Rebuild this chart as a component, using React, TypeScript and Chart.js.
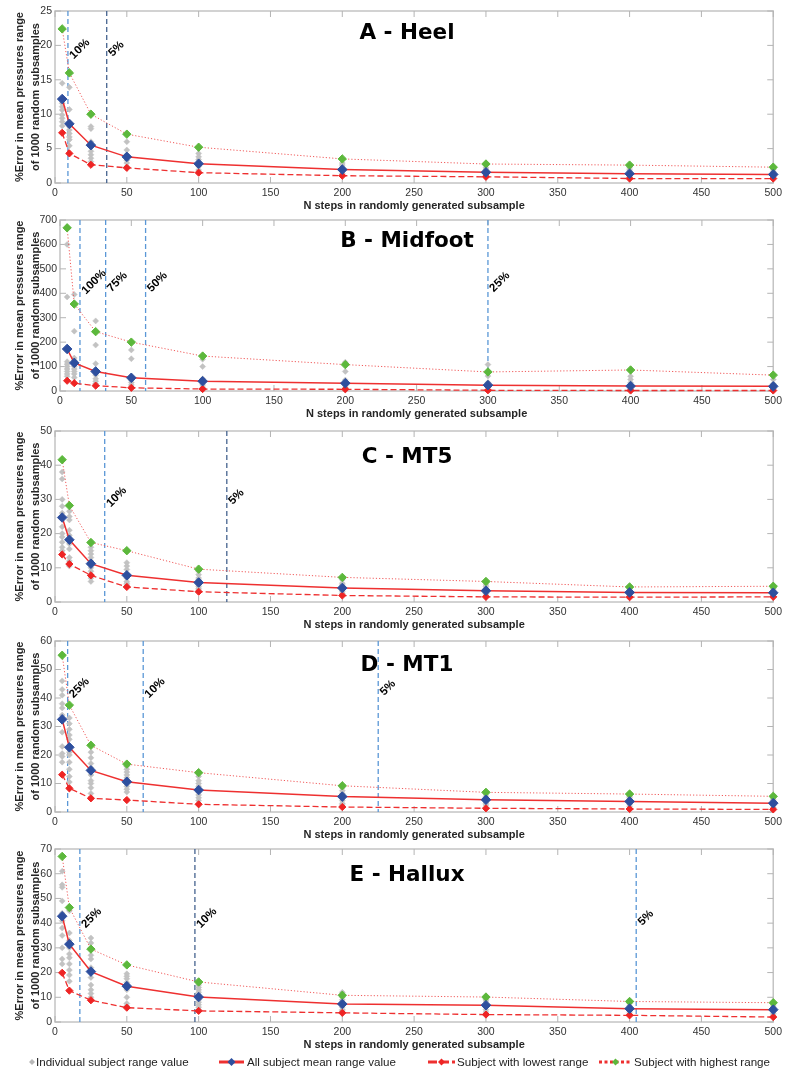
import React, { useEffect, useRef } from 'react';
import { Chart, registerables } from 'chart.js';
Chart.register(...registerables);

// ---------- shared axes ----------
const steps = [5, 10, 25, 50, 100, 200, 300, 400, 500];
const xTickValues = [0, 50, 100, 150, 200, 250, 300, 350, 400, 450, 500];
const xAxisTitle = 'N steps in randomly generated subsample';
const yAxisTitle = ['%Error in mean pressures range', 'of 1000 random subsamples'];

// ---------- A - Heel ----------
const heelMean = [12.2, 8.6, 5.5, 3.8, 2.8, 1.95, 1.55, 1.35, 1.25];
const heelLowest = [7.3, 4.3, 2.65, 2.2, 1.5, 1.06, 0.9, 0.65, 0.65];
const heelHighest = [22.4, 16.0, 10.0, 7.1, 5.2, 3.5, 2.76, 2.6, 2.3];
const heelIndividual = [
  [14.5, 11.6, 11.1, 10.6, 9.9, 9.4, 8.9, 8.3],
  [13.9, 10.7, 8.2, 7.7, 7.2, 6.7, 6.3, 5.4],
  [8.2, 7.9, 6.0, 5.3, 4.6, 4.1, 3.6, 3.1],
  [6.0, 4.8, 4.1, 3.3, 2.9, 2.4],
  [4.3, 3.8, 3.4, 3.0, 2.4, 1.9],
  [2.9, 2.6, 2.3, 1.7, 1.4],
  [2.2, 2.0, 1.8, 1.4, 1.1],
  [2.2, 1.9, 1.6, 1.2, 0.9],
  [2.0, 1.7, 1.4, 1.1, 0.9],
];
const heelYTicks = [0, 5, 10, 15, 20, 25];
const heelThresholds = [9, 36];
const heelThresholdLabels = ['10%', '5%'];

// ---------- B - Midfoot ----------
const midfootMean = [172, 115, 80, 54, 40, 32, 24, 20, 19];
const midfootLowest = [42, 32, 22, 13, 8, 7, 3, 2, 2];
const midfootHighest = [668, 356, 243, 200, 143, 108, 78, 86, 65];
const midfootIndividual = [
  [600, 385, 120, 110, 100, 90, 80, 70, 60],
  [395, 245, 135, 125, 115, 100, 90, 80, 70, 55],
  [287, 188, 112, 65, 50, 40, 30],
  [168, 132, 60, 45, 35, 25],
  [130, 100, 50, 35, 25, 15],
  [118, 80, 45, 25, 15],
  [108, 61, 35, 15],
  [60, 47, 34, 12],
  [47, 30, 20, 10],
];
const midfootYTicks = [0, 100, 200, 300, 400, 500, 600, 700];
const midfootThresholds = [14, 32, 60, 300];
const midfootThresholdLabels = ['100%', '75%', '50%', '25%'];

// ---------- C - MT5 ----------
const mt5Mean = [24.7, 18.2, 11.2, 7.8, 5.7, 4.1, 3.3, 2.8, 2.7];
const mt5Lowest = [13.9, 11.1, 7.8, 4.4, 3.0, 1.9, 1.5, 1.4, 1.5];
const mt5Highest = [41.6, 28.2, 17.4, 15.0, 9.6, 7.2, 6.0, 4.4, 4.6];
const mt5Individual = [
  [38, 36, 30, 28, 26, 22, 20, 19, 17.5, 16, 15],
  [26.5, 25, 24, 21, 19.5, 17, 15.5, 13, 12, 11, 10.5],
  [16, 15, 14, 13, 12, 10, 9, 8, 7, 6],
  [11.5, 10.5, 9.5, 7, 6, 5.5, 5, 4.5],
  [9, 8, 7, 6.5, 5, 4.5, 4, 3.5],
  [6.5, 5.5, 5, 4.5, 3.5, 3, 2.5],
  [5, 4.5, 4, 3.5, 3, 2.5, 2],
  [4.2, 3.8, 3.4, 3, 2.6, 2.2, 1.8],
  [4, 3.5, 3.2, 2.8, 2.4, 2, 1.7],
];
const mt5YTicks = [0, 10, 20, 30, 40, 50];
const mt5Thresholds = [34.6, 119.6];
const mt5ThresholdLabels = ['10%', '5%'];

// ---------- D - MT1 ----------
const mt1Mean = [32.5, 22.7, 14.6, 10.6, 7.7, 5.4, 4.3, 3.7, 3.1];
const mt1Lowest = [13.1, 8.3, 4.8, 4.2, 2.7, 1.75, 1.3, 1.05, 0.9];
const mt1Highest = [55.0, 37.5, 23.4, 16.8, 13.8, 9.2, 6.9, 6.3, 5.5];
const mt1Individual = [
  [46, 43, 41, 38, 36.5, 34, 28, 23, 20.5, 19.5, 17.5],
  [33, 31, 29, 27, 25.5, 21, 20, 17.5, 15, 12.5, 10.5],
  [21, 19, 17, 15.5, 13, 11, 10, 8.5, 6.5],
  [16, 15, 14, 13, 12, 11, 10, 9, 8, 7],
  [12.5, 11, 10, 9, 7, 6, 5, 4],
  [8.5, 7.5, 6.5, 6, 5, 4, 3, 2.5],
  [6.5, 5.5, 5, 4.5, 3.5, 3, 2.5],
  [5.5, 5, 4.5, 4, 3.3, 2.7, 2],
  [5, 4.5, 4, 3.5, 2.8, 2.2, 1.6],
];
const mt1YTicks = [0, 10, 20, 30, 40, 50, 60];
const mt1Thresholds = [8.8, 61.4, 225];
const mt1ThresholdLabels = ['25%', '10%', '5%'];

// ---------- E - Hallux ----------
const halluxMean = [42.8, 31.5, 20.4, 14.5, 10.1, 7.3, 6.8, 5.4, 5.0];
const halluxLowest = [19.9, 12.7, 8.8, 5.8, 4.5, 3.7, 3.0, 2.7, 2.0];
const halluxHighest = [67.0, 46.3, 29.5, 23.1, 16.2, 10.8, 10.1, 8.3, 7.8];
const halluxIndividual = [
  [61, 55.5, 54.5, 49, 44, 41, 38, 35, 30, 25.5, 23.5],
  [45, 36, 33, 30, 27.5, 26, 23.5, 21, 19, 16.5],
  [34, 32, 27, 25.5, 22, 18, 15, 13, 11.5, 10],
  [19.5, 18.5, 17.5, 16, 15, 13, 10, 7.5, 6.5],
  [15, 14, 13, 12, 11, 9, 8, 7, 6, 5],
  [12, 11, 10, 9, 8, 6, 5, 4.5],
  [10, 9, 8.5, 7.5, 6, 5, 4],
  [8.5, 7.5, 6.5, 5.8, 4.8, 4, 3.2],
  [7.5, 6.5, 6, 5.5, 4.5, 3.5, 2.8],
];
const halluxYTicks = [0, 10, 20, 30, 40, 50, 60, 70];
const halluxThresholds = [17.3, 97.4, 404.6];
const halluxThresholdLabels = ['25%', '10%', '5%'];

// ---------- styles ----------
const FONT = '"Liberation Sans", Arial, Helvetica, sans-serif';
const TITLE_FONT = 'bold 21.5px "DejaVu Sans", sans-serif';
const RED_LINE = '#ee3030';
const RED = '#ee2424';
const BLUE = '#2e4f9e';
const GREEN = '#5cb83c';
const GRAY_PT = '#c2c2c2';
const TH_LIGHT = '#5a97d6';
const TH_DARK = '#46638f';
const FRAME = '#c4c4c4';

const panels = [
  { title: 'A - Heel', mean: heelMean, lowest: heelLowest, highest: heelHighest, individual: heelIndividual, yTicks: heelYTicks, thresholds: heelThresholds, thresholdLabels: heelThresholdLabels,
    thColors: [TH_LIGHT, TH_DARK], plotTop: 11, plotH: 172, plotLeft: 55, titleDy: 22, labelDy: 38 },
  { title: 'B - Midfoot', mean: midfootMean, lowest: midfootLowest, highest: midfootHighest, individual: midfootIndividual, yTicks: midfootYTicks, thresholds: midfootThresholds, thresholdLabels: midfootThresholdLabels,
    thColors: [TH_LIGHT, TH_LIGHT, TH_LIGHT, TH_LIGHT], plotTop: 220, plotH: 171, plotLeft: 60, titleDy: 21, labelDy: 62 },
  { title: 'C - MT5', mean: mt5Mean, lowest: mt5Lowest, highest: mt5Highest, individual: mt5Individual, yTicks: mt5YTicks, thresholds: mt5Thresholds, thresholdLabels: mt5ThresholdLabels,
    thColors: [TH_LIGHT, TH_DARK], plotTop: 431, plotH: 171, plotLeft: 55, titleDy: 26, labelDy: 66 },
  { title: 'D - MT1', mean: mt1Mean, lowest: mt1Lowest, highest: mt1Highest, individual: mt1Individual, yTicks: mt1YTicks, thresholds: mt1Thresholds, thresholdLabels: mt1ThresholdLabels,
    thColors: [TH_LIGHT, TH_LIGHT, TH_LIGHT], plotTop: 641, plotH: 171, plotLeft: 55, titleDy: 24, labelDy: 47 },
  { title: 'E - Hallux', mean: halluxMean, lowest: halluxLowest, highest: halluxHighest, individual: halluxIndividual, yTicks: halluxYTicks, thresholds: halluxThresholds, thresholdLabels: halluxThresholdLabels,
    thColors: [TH_LIGHT, TH_DARK, TH_LIGHT], plotTop: 849, plotH: 173, plotLeft: 55, titleDy: 26, labelDy: 69 },
];

const PAD_TOP = 11;
const X_AXIS_H = 33;

function Panel({ cfg }: { cfg: any }) {
  const ref = useRef<HTMLCanvasElement | null>(null);
  const height = PAD_TOP + cfg.plotH + X_AXIS_H;
  useEffect(() => {
    const canvas = ref.current;
    if (!canvas) return;
    const yMax = cfg.yTicks[cfg.yTicks.length - 1];
    const panelPlugin = {
      id: 'panelDecor',
      beforeDatasetsDraw(chart: any) {
        const { ctx, chartArea } = chart;
        const { left, right, top, bottom } = chartArea;
        const xs = chart.scales.x;
        const ys = chart.scales.y;
        ctx.save();
        ctx.strokeStyle = FRAME;
        ctx.lineWidth = 1.5;
        ctx.strokeRect(left, top, right - left, bottom - top);
        ctx.lineWidth = 1;
        ctx.strokeStyle = '#b4b4b4';
        ctx.beginPath();
        xTickValues.forEach((v) => {
          const px = xs.getPixelForValue(v);
          ctx.moveTo(px, top); ctx.lineTo(px, top + 6);
          ctx.moveTo(px, bottom); ctx.lineTo(px, bottom - 6);
        });
        cfg.yTicks.forEach((v: number) => {
          const py = ys.getPixelForValue(v);
          ctx.moveTo(left, py); ctx.lineTo(left + 6, py);
          ctx.moveTo(right, py); ctx.lineTo(right - 6, py);
        });
        ctx.stroke();
        ctx.setLineDash([5, 3]);
        ctx.lineWidth = 1.3;
        cfg.thresholds.forEach((t: number, i: number) => {
          const px = xs.getPixelForValue(t);
          ctx.strokeStyle = cfg.thColors[i];
          ctx.beginPath();
          ctx.moveTo(px, top); ctx.lineTo(px, bottom);
          ctx.stroke();
        });
        ctx.restore();
      },
      afterDatasetsDraw(chart: any) {
        const { ctx, chartArea } = chart;
        const { top } = chartArea;
        const xs = chart.scales.x;
        ctx.save();
        ctx.fillStyle = '#000';
        ctx.font = TITLE_FONT;
        ctx.textAlign = 'center';
        ctx.textBaseline = 'middle';
        ctx.fillText(cfg.title, 407, top + cfg.titleDy);
        ctx.font = `bold 11.5px ${FONT}`;
        cfg.thresholdLabels.forEach((lbl: string, i: number) => {
          const px = xs.getPixelForValue(cfg.thresholds[i]);
          const w = ctx.measureText(lbl).width;
          const cx = px + ((w + 9) * 0.7071) / 2 + 0.5;
          const cy = top + cfg.labelDy;
          ctx.save();
          ctx.translate(cx, cy);
          ctx.rotate(-Math.PI / 4);
          ctx.fillText(lbl, 0, 0);
          ctx.restore();
        });
        ctx.restore();
      },
    };

    const pts = (arr: number[]) => steps.map((s, i) => ({ x: s, y: arr[i] }));
    const grayPts = steps.flatMap((s, i) => cfg.individual[i].map((v: number) => ({ x: s, y: v })));

    const chart = new Chart(canvas, {
      type: 'line',
      data: {
        datasets: [
          { label: 'All subject mean range value', data: pts(cfg.mean), borderColor: RED_LINE, borderWidth: 1.5, pointStyle: 'rectRot', pointRadius: 4.8, pointBackgroundColor: BLUE, pointBorderColor: BLUE, pointBorderWidth: 1, order: 1, clip: false, tension: 0 },
          { label: 'Subject with lowest range', data: pts(cfg.lowest), borderColor: RED_LINE, borderWidth: 1.3, borderDash: [6, 3], pointStyle: 'rectRot', pointRadius: 3.6, pointBackgroundColor: RED, pointBorderColor: RED, pointBorderWidth: 1, order: 2, clip: false, tension: 0 },
          { label: 'Subject with highest range', data: pts(cfg.highest), borderColor: '#f05a5a', borderWidth: 1, borderDash: [1.2, 2], pointStyle: 'rectRot', pointRadius: 4.2, pointBackgroundColor: GREEN, pointBorderColor: GREEN, pointBorderWidth: 1, order: 3, clip: false, tension: 0 },
          { label: 'Individual subject range value', data: grayPts, showLine: false, pointStyle: 'rectRot', pointRadius: 3, pointBackgroundColor: GRAY_PT, pointBorderColor: GRAY_PT, pointBorderWidth: 0.5, order: 4, clip: false },
        ],
      },
      options: {
        responsive: false,
        animation: false,
        devicePixelRatio: 1,
        events: [],
        layout: { padding: { top: PAD_TOP, right: 9, left: 0, bottom: 0 } },
        plugins: { legend: { display: false }, tooltip: { enabled: false } },
        scales: {
          x: {
            type: 'linear', min: 0, max: 500,
            afterBuildTicks: (s: any) => { s.ticks = xTickValues.map((v) => ({ value: v })); },
            afterFit: (s: any) => { s.height = X_AXIS_H; },
            grid: { display: false, drawTicks: false },
            border: { display: false },
            ticks: { padding: 4, color: '#333', font: { family: FONT, size: 10.5 }, maxRotation: 0, autoSkip: false },
            title: { display: true, text: xAxisTitle, color: '#262626', font: { family: FONT, size: 11, weight: 'bold' }, padding: { top: 0, bottom: 3.4 } },
          },
          y: {
            type: 'linear', min: 0, max: yMax,
            afterBuildTicks: (s: any) => { s.ticks = cfg.yTicks.map((v: number) => ({ value: v })); },
            afterFit: (s: any) => { s.width = cfg.plotLeft; },
            grid: { display: false, drawTicks: false },
            border: { display: false },
            ticks: { padding: 3, color: '#333', font: { family: FONT, size: 10.5 }, autoSkip: false },
            title: { display: true, text: yAxisTitle, color: '#262626', font: { family: FONT, size: 11, weight: 'bold', lineHeight: '16.5px' }, padding: { top: 11.5, bottom: 0 } },
          },
        },
      },
      plugins: [panelPlugin],
    } as any);
    return () => chart.destroy();
  }, [cfg]);
  return (
    <canvas
      ref={ref}
      width={786}
      height={height}
      style={{ position: 'absolute', left: 0, top: cfg.plotTop - PAD_TOP, width: 786, height }}
    />
  );
}

function Diamond({ cx, cy, r, color }: { cx: number; cy: number; r: number; color: string }) {
  return <polygon points={`${cx},${cy - r} ${cx + r},${cy} ${cx},${cy + r} ${cx - r},${cy}`} fill={color} />;
}

const legendText: React.CSSProperties = { position: 'absolute', top: 0, fontFamily: FONT, fontSize: 11.6, color: '#222', lineHeight: '16px', whiteSpace: 'nowrap' };

function Legend() {
  return (
    <div style={{ position: 'absolute', left: 0, top: 1054, width: 786, height: 16 }}>
      <svg style={{ position: 'absolute', left: 28, top: 4 }} width={8} height={8}><Diamond cx={4} cy={4} r={3} color="#b8b8b8" /></svg>
      <span style={{ ...legendText, left: 36 }}>Individual subject range value</span>

      <svg style={{ position: 'absolute', left: 219, top: 2 }} width={25} height={12}>
        <line x1={0} y1={6} x2={25} y2={6} stroke={RED_LINE} strokeWidth={3} />
        <Diamond cx={12.5} cy={6} r={4} color={BLUE} />
      </svg>
      <span style={{ ...legendText, left: 247 }}>All subject mean range value</span>

      <svg style={{ position: 'absolute', left: 428, top: 2 }} width={27} height={12}>
        <line x1={0} y1={6} x2={27} y2={6} stroke={RED_LINE} strokeWidth={3} strokeDasharray="9 3" />
        <Diamond cx={13.5} cy={6} r={3.5} color={RED} />
      </svg>
      <span style={{ ...legendText, left: 457 }}>Subject with lowest range</span>

      <svg style={{ position: 'absolute', left: 599, top: 2 }} width={33} height={12}>
        <line x1={0} y1={6} x2={33} y2={6} stroke={RED_LINE} strokeWidth={3} strokeDasharray="3 2.5" />
        <Diamond cx={16.5} cy={6} r={3.5} color={GREEN} />
      </svg>
      <span style={{ ...legendText, left: 634 }}>Subject with highest range</span>
    </div>
  );
}

export default function App() {
  return (
    <div style={{ position: 'absolute', left: 0, top: 0, width: 786, height: 1072, background: '#fff', overflow: 'hidden' }}>
      {panels.map((p) => (
        <Panel key={p.title} cfg={p} />
      ))}
      <Legend />
    </div>
  );
}
